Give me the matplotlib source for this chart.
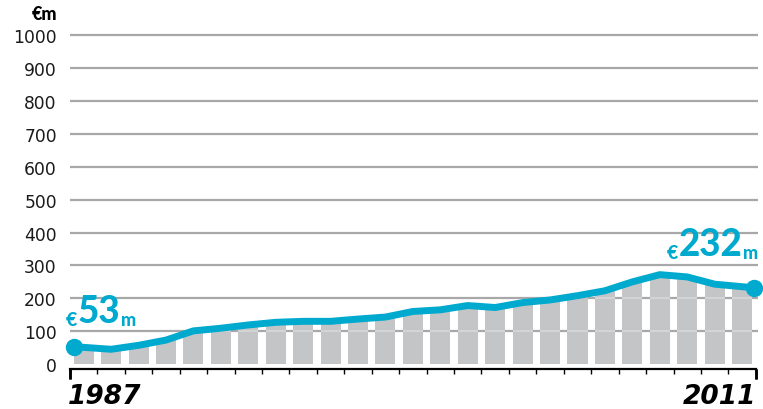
import numpy as np
from matplotlib import pyplot as plt

# data
years = list(range(1987, 2012))
values = [53, 45, 57, 73, 101, 109, 119, 127, 130, 130, 137, 143, 160, 165,
          178, 172, 187, 195, 208, 223, 250, 272, 265, 243, 232]
y_ticks = [0, 100, 200, 300, 400, 500, 600, 700, 800, 900, 1000]
first_label = "1987"
last_label = "2011"
unit_label = "€m"

CYAN = "#00a9ce"
BAR = "#c4c5c7"
GRID = "#a8a8a9"

plt.rcParams['font.family'] = ['Lato', 'DejaVu Sans']

fig = plt.figure(figsize=(7.63, 4.10), dpi=100)
ax = fig.add_axes([70 / 763, 40 / 410, 688 / 763, 337 / 410])

n = len(values)
bar_x = np.arange(n) + 0.5
bar_w = 0.73
vals = np.array(values)

# gridlines under bars, lighter strips where they pass through bars
for t in y_ticks[1:]:
    ax.axhline(t, color=GRID, lw=1.6, zorder=0)
ax.bar(bar_x, values, width=bar_w, color=BAR, zorder=1)
for t in y_ticks[1:]:
    under = vals > t + 8
    if under.any():
        ax.hlines([t] * under.sum(), bar_x[under] - bar_w / 2,
                  bar_x[under] + bar_w / 2, color="#d4d5d6", lw=1.4,
                  zorder=1.5)

# line: vertices at bar centres, ends pulled out to the axis edges
line_x = bar_x.copy()
line_x[0] = 0.13
line_x[-1] = 24.93
ax.plot(line_x, values, color=CYAN, lw=5, solid_joinstyle='round',
        solid_capstyle='round', zorder=3)
ax.plot([line_x[0], line_x[-1]], [values[0], values[-1]], 'o', color=CYAN,
        ms=11.5, zorder=4, clip_on=False)

ax.set_xlim(0, 25.08)
ax.set_ylim(-15, 1010)
ax.set_yticks(y_ticks)
ax.set_yticklabels([str(t) for t in y_ticks], fontsize=12.3, color="#1a1a1a",
                   family=['DejaVu Sans'])
ax.tick_params(axis='y', length=0, pad=9.5)

ax.set_xticks(np.arange(0, n + 1))
ax.set_xticklabels([])
ax.tick_params(axis='x', length=3.6, width=1.0, color="black", direction='out')
for spine in ['top', 'right', 'left']:
    ax.spines[spine].set_visible(False)
ax.spines['bottom'].set_linewidth(1.6)
ax.spines['bottom'].set_bounds(0, n)

# bigger end ticks
for xe in [0, n]:
    ax.plot([xe, xe], [-15, -15], marker=3, ms=7.2, mew=1.8, color="black",
            clip_on=False, zorder=5)

ax.annotate(first_label, xy=(0, 0), xycoords=('data', 'axes fraction'),
            xytext=(-1.5, -10), textcoords='offset points', ha='left', va='top',
            fontsize=19, fontweight='bold', fontstyle='italic',
            family=['DejaVu Sans'], color="black", annotation_clip=False)
ax.annotate(last_label, xy=(n, 0), xycoords=('data', 'axes fraction'),
            xytext=(0, -10), textcoords='offset points', ha='right', va='top',
            fontsize=19, fontweight='bold', fontstyle='italic',
            family=['DejaVu Sans'], color="black", annotation_clip=False)

fig.text(57 / 763, 1 - 14 / 410, unit_label, ha='right', va='center',
         fontsize=13, fontweight='black', color="black")


def value_label(x, y, value):
    t1 = ax.annotate("€", xy=(x, y), xycoords='data', ha='left',
                     va='baseline', fontsize=14, fontweight='black',
                     color=CYAN, annotation_clip=False)
    t2 = ax.annotate(str(value), xy=(1, 0), xycoords=t1, xytext=(0.3, -0.4),
                     textcoords='offset points', ha='left', va='bottom',
                     fontsize=26.5, fontweight='black', color=CYAN,
                     annotation_clip=False)
    ax.annotate("m", xy=(1, 0), xycoords=t2, xytext=(0.5, 0.4),
                textcoords='offset points', ha='left', va='bottom',
                fontsize=13, fontweight='black', color=CYAN,
                annotation_clip=False)
    return t1


value_label(-0.15, 120, values[0])
value_label(21.75, 324, values[-1])

fig.savefig("out.png", dpi=100)
